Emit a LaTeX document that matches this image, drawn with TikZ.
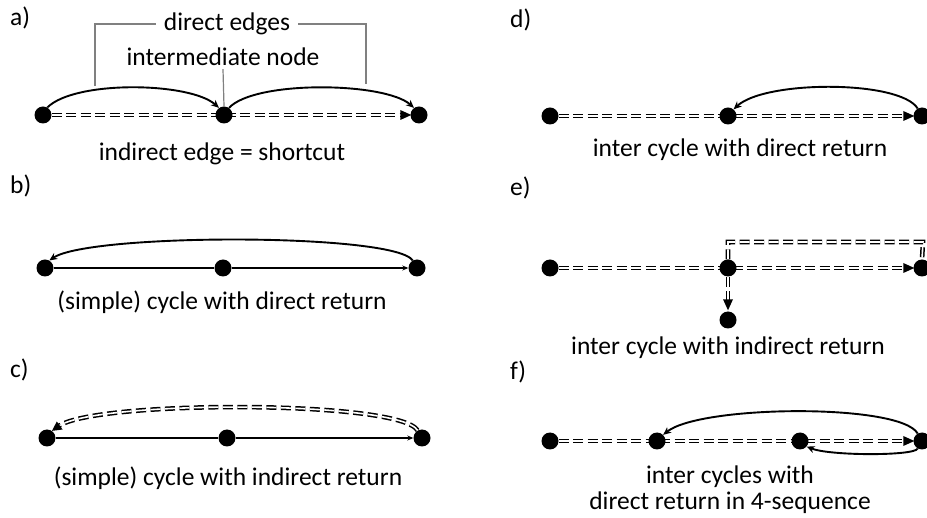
\documentclass[tikz,border=0pt]{standalone}
\usepackage{fontspec}
\setmainfont{Carlito}
\usetikzlibrary{arrows.meta,calc}
\pgfdeclarelayer{background}
\pgfsetlayers{background,main}
\begin{document}
\begin{tikzpicture}[x=1pt,y=-1pt,
  dot/.style={circle,fill=black,inner sep=0pt,minimum size=17pt},
  txt/.style={font=\fontsize{25.5}{28}\selectfont,inner sep=0pt},
  lbl/.style={font=\fontsize{25.5}{28}\selectfont,inner sep=0pt,anchor=west},
  solidarc/.style={line width=1.9pt,-{Stealth[length=8pt,width=7pt]}},
  thin/.style={line width=1.4pt},
  thinarr/.style={line width=1.4pt,-{Stealth[length=6pt,width=5pt]}},
  dbl/.style={double,double distance=1.6pt,line width=1.5pt,dash pattern=on 10pt off 4.5pt},
  dblarr/.style={dbl,shorten >=8pt},
  tipfill/.style={fill=black},
  brk/.style={gray,line width=1.2pt}]
\useasboundingbox (0,0) rectangle (927,518);

% ---------- a)
\node[lbl] (la) at (10,18) {a)};
\node[dot] (a1) at (43,115) {};
\node[dot] (a2) at (224,115) {};
\node[dot] (a3) at (419,115) {};
\node[txt] (de) at (227,24) {direct edges};
\node[txt] (im) at (223,57) {intermediate node};
\node[txt] (ta) at (222,154) {indirect edge = shortcut};
\coordinate (lb) at (95,86);
\coordinate (rb) at (366,84);
\draw[brk] ([xshift=-8pt]de.west) -| (lb);
\draw[brk] ([xshift=8pt]de.east) -| (rb);
\draw[brk] ([yshift=-3pt]im.south) -- (a2.north);
\begin{pgfonlayer}{background}
\draw[dblarr] (a1) -- (a3.west);
\end{pgfonlayer}
\fill[tipfill] ([xshift=1pt]a3.west) -- ++(-11,-5) -- ++(0,10) -- cycle;
\draw[solidarc] (a1.60) .. controls (75,80) and (190,82) .. (a2.125);
\draw[solidarc] (a2.55) .. controls (255,80) and (385,82) .. (a3.125);

% ---------- b)
\node[lbl] (lbb) at (10,186) {b)};
\node[dot] (b1) at (45,268) {};
\node[dot] (b2) at (223,268) {};
\node[dot] (b3) at (417,268) {};
\node[txt] (tb) at (222,302) {(simple) cycle with direct return};
\draw[thin] (b1) -- (b2);
\draw[thinarr] (b2) -- (b3.west);
\draw[solidarc] (b3.120) .. controls (395,233) and (90,233) .. (b1.60);

% ---------- c)
\node[lbl] (lc) at (10,370) {c)};
\node[dot] (c1) at (47,438) {};
\node[dot] (c2) at (227,438) {};
\node[dot] (c3) at (422,438) {};
\node[txt] (tc) at (228,478) {(simple) cycle with indirect return};
\draw[thin] (c1) -- (c2);
\draw[thinarr] (c2) -- (c3.west);
\coordinate (cc) at (95,400);
\draw[dblarr] (c3.120) .. controls (400,400) and (cc) .. (c1.55);
\fill[tipfill] (c1.55) -- (62.6,429.5) -- (56.8,421.5) -- cycle;

% ---------- d)
\node[lbl] (ld) at (510,20) {d)};
\node[dot] (d1) at (550,116) {};
\node[dot] (d2) at (728,116) {};
\node[dot] (d3) at (922,116) {};
\node[txt] (td) at (740,150) {inter cycle with direct return};
\begin{pgfonlayer}{background}
\draw[dblarr] (d1) -- (d3.west);
\end{pgfonlayer}
\fill[tipfill] ([xshift=1pt]d3.west) -- ++(-11,-5) -- ++(0,10) -- cycle;
\draw[solidarc] (d3.120) .. controls (900,80) and (765,80) .. (d2.50);

% ---------- e)
\node[lbl] (le) at (510,188) {e)};
\node[dot] (e1) at (550,268) {};
\node[dot] (e2) at (728,268) {};
\node[dot] (e3) at (922,268) {};
\node[dot] (e4) at (728,320) {};
\node[txt] (te) at (728,348) {inter cycle with indirect return};
\coordinate (etr) at (923,242);
\begin{pgfonlayer}{background}
\draw[dblarr] (e1) -- (e3.west);
\draw[dbl] (e2) |- (etr) -- (e3.north);
\end{pgfonlayer}
\fill[tipfill] ([xshift=1pt]e3.west) -- ++(-11,-5) -- ++(0,10) -- cycle;
\draw[dblarr] (e2.south) -- (e4.north);
\fill[tipfill] ([yshift=1pt]e4.north) -- ++(-5,-11) -- ++(10,0) -- cycle;

% ---------- f)
\node[lbl] (lf) at (510,372) {f)};
\node[dot] (f1) at (550,441) {};
\node[dot] (f2) at (657,441) {};
\node[dot] (f3) at (800,441) {};
\node[dot] (f4) at (922,441) {};
\node[txt] (tf1) at (730,477) {inter cycles with};
\node[txt] (tf2) at (730,503) {direct return in 4-sequence};
\begin{pgfonlayer}{background}
\draw[dblarr] (f1) -- (f4.west);
\end{pgfonlayer}
\fill[tipfill] ([xshift=1pt]f4.west) -- ++(-11,-5) -- ++(0,10) -- cycle;
\draw[solidarc] (f4.120) .. controls (900,403) and (700,405) .. (f2.45);
\draw[solidarc] (f4.240) .. controls (915,456) and (830,456) .. (f3.-40);
\end{tikzpicture}
\end{document}
